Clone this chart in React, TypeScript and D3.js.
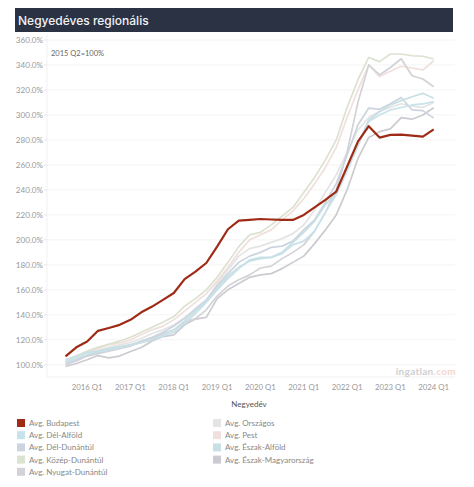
import React from "react";
import * as d3 from "d3";

const WIDTH = 474;
const HEIGHT = 487;

const yTicks = [100, 120, 140, 160, 180, 200, 220, 240, 260, 280, 300, 320, 340, 360];
const xTickLabels = ["2016 Q1", "2017 Q1", "2018 Q1", "2019 Q1", "2020 Q1", "2021 Q1", "2022 Q1", "2023 Q1", "2024 Q1"];
const quarters = d3.range(2015, 2025).flatMap((y) => [1, 2, 3, 4].map((q) => `${y} Q${q}`)).slice(2, 37);

const budapest = [106.7, 114, 118.6, 127.2, 129.5, 132, 136, 142, 146.6, 152, 157.5, 168.6, 174.6, 181.5, 194.6, 208.5, 215.4, 216, 216.7, 216.3, 216, 216, 220, 226, 232, 238.6, 258.6, 278.6, 291, 281.9, 284, 284.3, 283.4, 282.6, 288.5];
const delAlfold = [102, 105, 108.5, 110.5, 112, 113.5, 116, 118, 120, 123, 126, 133, 141, 150, 160, 169, 177, 184, 186, 186, 189, 196, 199, 207, 222, 236, 255, 275, 294.7, 300, 304, 306, 308, 308.8, 310.7];
const delDunantul = [101, 104, 108, 110, 112, 114, 116, 119, 122, 126, 131, 137, 145, 152, 163, 173, 182, 187, 190, 194, 195, 199, 208, 216, 230, 245, 268, 292, 305.5, 304.5, 309, 314, 304, 303.5, 297.5];
const kozepDunantul = [103, 107, 111, 114, 116.5, 119, 122, 126, 130, 134, 138.6, 147, 153, 160, 170, 182, 194.6, 204, 206, 212, 219, 226, 238, 250, 264, 280, 306, 328, 346, 342.7, 348.8, 348.8, 347.4, 347, 344.8];
const nyugatDunantul = [100, 103, 107, 109, 111, 113, 115, 118, 121, 125, 128, 134, 137, 144, 155, 163, 168, 172, 177.5, 179, 185, 190, 196, 207, 222, 240, 270, 310, 340, 332, 338, 345, 331.4, 328.8, 322.6];
const orszagos = [102, 106, 110, 111.5, 114, 116, 118, 121, 125, 128, 132, 138, 144, 151, 165, 176, 187, 193, 195, 198, 201, 205, 212, 224, 238, 252, 270, 288, 298, 303, 306, 309, 307, 306, 310];
const pest = [103, 107, 110.5, 113, 116, 117.5, 120, 124, 128, 131, 136, 143, 150, 157, 167, 178, 190, 200, 204, 208, 216, 223, 233, 245, 258, 274, 298, 320, 340, 330.7, 335, 339, 337.6, 336, 343.4];
const eszakAlfold = [104, 107, 110, 111, 113, 114.5, 116, 118, 120, 124, 128, 135, 143, 151, 161, 171, 178, 183, 185, 186, 190, 198, 206, 215, 228, 238, 258, 276, 296, 302.6, 308, 311.5, 314.6, 317.3, 313.3];
const eszakMagyar = [98.6, 101, 104, 107.4, 105.6, 107, 110.6, 113.8, 119, 122.6, 124, 132, 136.6, 138, 153, 160, 165, 170, 172, 173, 177, 182, 187, 197, 208, 220, 240, 265, 282, 286.6, 288.8, 297.8, 296.6, 300, 305.8];

const seriesNames = ["Avg. Budapest", "Avg. Dél-Alföld", "Avg. Dél-Dunántúl", "Avg. Közép-Dunántúl", "Avg. Nyugat-Dunántúl", "Avg. Országos", "Avg. Pest", "Avg. Észak-Alföld", "Avg. Észak-Magyarország"];
const seriesValues = [budapest, delAlfold, delDunantul, kozepDunantul, nyugatDunantul, orszagos, pest, eszakAlfold, eszakMagyar];
const seriesColors = ["#9f2a16", "#c8e2ec", "#ccd4e0", "#dbe2cf", "#d3d3d7", "#e4e4e4", "#f0e0dd", "#c8dfe4", "#cbcbd1"];
const drawOrder = [5, 6, 3, 8, 4, 2, 1, 7, 0];

const FONT = "Lato, 'Open Sans', sans-serif";

export default function App() {
  const x = d3.scalePoint<string>().domain(quarters).range([65.5, 433.7]);
  const y = d3.scaleLinear().domain([100, 360]).range([364.8, 40]);
  const line = d3.line<number>().x((_, i) => x(quarters[i]) as number).y((d) => y(d));

  return (
    <svg width={WIDTH} height={HEIGHT} style={{ position: "absolute", left: 0, top: 0, background: "#fff" }} fontFamily={FONT}>
      <rect x={15} y={8} width={438} height={24} fill="#2a3243" />
      <text x={18} y={24.5} fill="#f2f2f5" fontSize={12} fontWeight={500} style={{ fontFamily: "Inter, sans-serif" }}>Negyedéves regionális</text>

      <line x1={47} x2={47} y1={34} y2={377} stroke="#f1f1f1" />
      <line x1={47} x2={455} y1={377} y2={377} stroke="#efefef" />
      {yTicks.map((t) => (
        <g key={t}>
          <line x1={47} x2={455} y1={y(t)} y2={y(t)} stroke="#f4f4f4" />
          <line x1={44} x2={47} y1={y(t)} y2={y(t)} stroke="#e6e6e6" />
          <text x={43} y={y(t) + 3} textAnchor="end" fontSize={8.1} fill="#999">{d3.format(".1f")(t)}%</text>
        </g>
      ))}
      {xTickLabels.map((t) => (
        <text key={t} x={x(t)} y={389.5} textAnchor="middle" fontSize={7.8} fill="#999">{t}</text>
      ))}
      <text x={249} y={407} textAnchor="middle" fontSize={8} fill="#555">Negyedév</text>
      <text x={51} y={56} fontSize={7.5} fill="#666">2015 Q2=100%</text>

      {drawOrder.map((s) => (
        <path key={s} d={line(seriesValues[s]) as string} fill="none" stroke={seriesColors[s]} strokeWidth={s === 0 ? 2.2 : 1.7} strokeLinejoin="round" />
      ))}

      <text x={456} y={375} textAnchor="end" fontSize={10} fontWeight={700} fill="#cfcfd2" letterSpacing={0.3}>
        ingatlan<tspan fill="#f3d6cd">.com</tspan>
      </text>

      {seriesNames.map((name, i) => {
        const col = i < 5 ? 0 : 1;
        const row = i < 5 ? i : i - 5;
        const lx = col === 0 ? 17 : 213;
        const ly = 419 + row * 12.2;
        return (
          <g key={name}>
            <rect x={lx} y={ly} width={8} height={8} fill={seriesColors[i]} />
            <text x={lx + 12} y={ly + 7} fontSize={8} fill="#888">{name}</text>
          </g>
        );
      })}
    </svg>
  );
}
